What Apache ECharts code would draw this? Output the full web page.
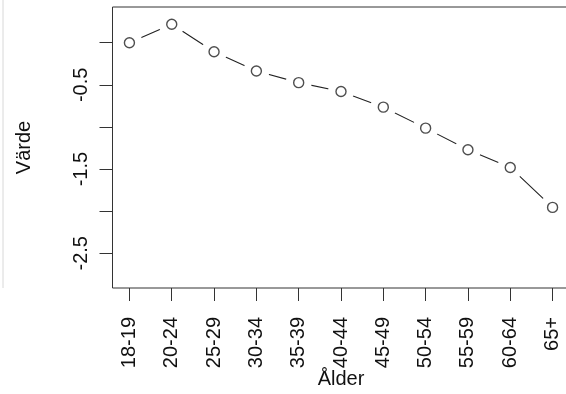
<!DOCTYPE html>
<html>
<head>
<meta charset="utf-8">
<script src="https://cdn.jsdelivr.net/npm/echarts@6/dist/echarts.min.js"></script>
<style>
html,body{margin:0;padding:0;background:#fff;}
#c{width:566px;height:394px;}
</style>
</head>
<body>
<div id="c"></div>
<script>
const categories = ['18-19','20-24','25-29','30-34','35-39','40-44','45-49','50-54','55-59','60-64','65+'];
const values = [0.0, 0.22, -0.107, -0.335, -0.474, -0.58, -0.765, -1.014, -1.271, -1.481, -1.955];
const yTicks = [0, -0.5, -1, -1.5, -2, -2.5];
const yLabels = [-0.5, -1.5, -2.5];
const xName = 'Ålder';
const yName = 'Värde';

const idx = categories.map((_, i) => i);
const pts = values.map((v, i) => [i, v]);
const FONT = '"Liberation Sans", Arial, Helvetica, sans-serif';
const chart = echarts.init(document.getElementById('c'), null, {renderer: 'canvas'});
chart.setOption({
  animation: false,
  backgroundColor: '#fff',
  textStyle: {fontFamily: FONT},
  grid: {left: 112.5, top: 7, bottom: 106, width: 457, containLabel: false, outerBoundsMode: 'none',
    show: true, borderColor: '#333', borderWidth: 1, backgroundColor: 'transparent'},
  graphic: [{type: 'line', shape: {x1: 3, y1: 0, x2: 3, y2: 288}, style: {stroke: '#d8d8d8', lineWidth: 1}}],
  xAxis: {
    type: 'value', min: -0.4, max: 10.4,
    name: xName, nameLocation: 'middle', nameGap: 81, nameMoveOverlap: false,
    nameTextStyle: {fontSize: 20, color: '#111', fontFamily: FONT},
    axisLine: {show: false, onZero: false},
    splitLine: {show: false},
    axisTick: {show: true, length: 13, customValues: idx, lineStyle: {color: '#333', width: 1}},
    axisLabel: {customValues: idx, rotate: 90, margin: 29, fontSize: 20, color: '#111', fontFamily: FONT,
      formatter: v => categories[Math.round(v)]}
  },
  yAxis: {
    type: 'value', min: -2.912, max: 0.424,
    name: yName, nameLocation: 'middle', nameGap: 78, nameRotate: 90, nameMoveOverlap: false,
    nameTextStyle: {fontSize: 20, color: '#111', fontFamily: FONT},
    axisLine: {show: false, onZero: false},
    splitLine: {show: false},
    axisTick: {show: true, length: 13, customValues: yTicks, lineStyle: {color: '#333', width: 1}},
    axisLabel: {customValues: yLabels, rotate: 90, margin: 21, fontSize: 20, color: '#111', fontFamily: FONT,
      formatter: v => String(v)}
  },
  series: [
    {type: 'line', data: pts, symbol: 'circle', symbolSize: 26,
      itemStyle: {color: '#fff', borderWidth: 0},
      lineStyle: {color: '#222', width: 1.1}, z: 2, silent: true},
    {type: 'scatter', data: pts, symbol: 'circle', symbolSize: 10,
      itemStyle: {color: '#fff', borderColor: '#222', borderWidth: 1.4}, z: 3}
  ]
});
</script>
</body>
</html>
